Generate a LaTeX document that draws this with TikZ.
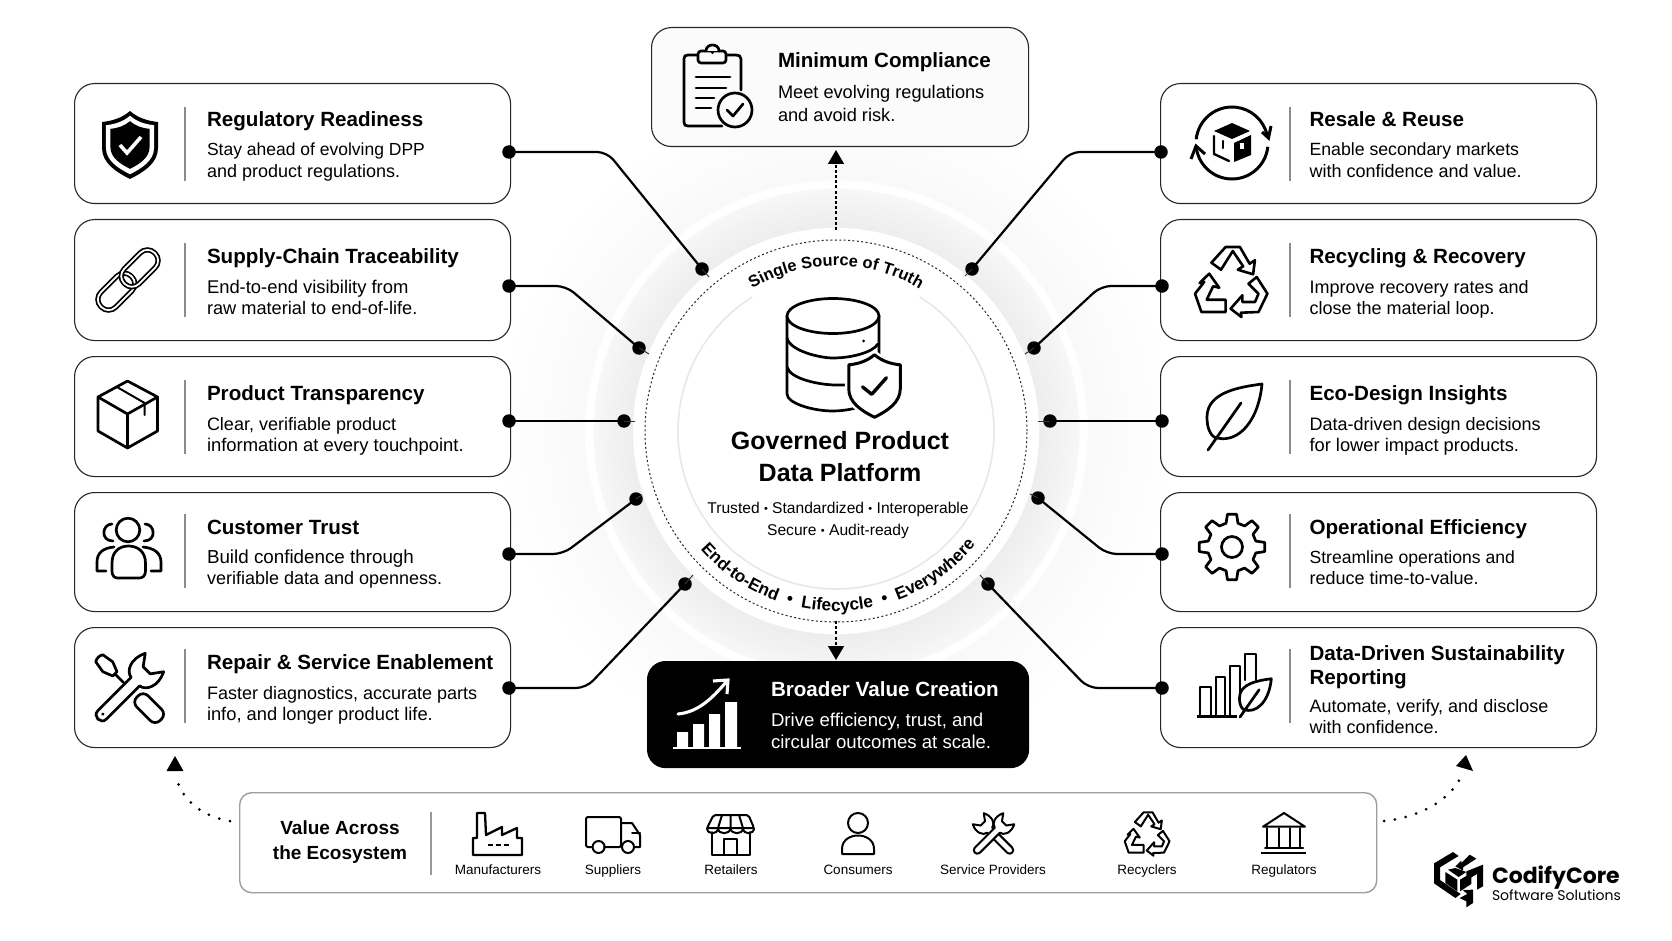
\documentclass[tikz,border=0pt]{standalone}
\usepackage{fontspec}
\setmainfont{Liberation Sans}
\newfontfamily\logofont{Poppins}
\usetikzlibrary{arrows.meta,decorations.text}
\pgfdeclareradialshading{halo}{\pgfpointorigin}{%
 color(0bp)=(white); color(14.8bp)=(white); color(14.93bp)=(black!7); color(16.5bp)=(black!5); color(17.85bp)=(black!3); color(17.9bp)=(white); color(18.46bp)=(white); color(18.5bp)=(black!2.5); color(22bp)=(black!1); color(25bp)=(white); color(50bp)=(white)}
\newcommand{\ttl}[1]{\fontsize{20.6pt}{24pt}\selectfont\bfseries #1}
\newcommand{\sbt}[2][18]{\fontsize{#1pt}{21pt}\selectfont #2}
\newcommand{\smb}{\raisebox{1pt}{\fontsize{11pt}{12pt}\selectfont •}}
\tikzset{
 card/.style={draw=black!85,line width=1.1pt,fill=white,rounded corners=20pt,anchor=north west,minimum width=436pt,minimum height=120pt,inner sep=0pt},
 sepr/.style={draw=black!45,line width=1.1pt},
 txt/.style={anchor=base west,inner sep=0pt,outer sep=0pt},
 ctr/.style={anchor=base,inner sep=0pt,outer sep=0pt},
 dotn/.style={circle,fill=black,inner sep=0pt,minimum size=13.5pt},
 conn/.style={draw=black,line width=2.2pt,rounded corners=10pt},
 tick/.style={draw=black!80,line width=1pt},
 ico/.style={draw=black,line width=2.7pt,line join=round,line cap=round},
 icos/.style={draw=black,line width=2pt,line join=round,line cap=round},
 lab/.style={ctr,font=\fontsize{13.5pt}{16pt}\selectfont},
 tipd/.style={-{Triangle[length=14pt,width=16pt]},draw=black,line width=1.7pt,dash pattern=on 3pt off 2.2pt},
 arcd/.style={draw=black,line width=3pt,line cap=round,dash pattern=on 0pt off 11pt},
}
\newcommand{\ShieldP}{(0,-34) .. controls (-8,-27) and (-18,-24) .. (-28,-23) -- (-28,3) .. controls (-28,18) and (-14,27) .. (0,34) .. controls (14,27) and (28,18) .. (28,3) -- (28,-23) .. controls (18,-24) and (8,-27) .. (0,-34) -- cycle}
\newcommand{\LeafP}{(54,-66) .. controls (32,-63) and (-1,-58) .. (-1,-33) .. controls (-1,-22) and (2,-16) .. (6,-13) .. controls (27,-5) and (50,-25) .. (54,-66) -- cycle (0,0) -- (33,-47)}
\newcommand{\WrenchP}{(-38,-6) -- (9,-6) .. controls (10,-14) and (22,-20) .. (36,-13) -- (25,-5) -- (25,5) -- (36,13) .. controls (22,20) and (10,14) .. (9,6) -- (-38,6) .. controls (-46,6) and (-46,-6) .. (-38,-6) -- cycle}
\newcommand{\RecycleIcon}[1]{%
 \draw[ico,line width=#1] (-19.6,-19.3) -- (-5.4,-35) -- (8.9,-35) -- (18.6,-18.3) -- (23.9,-21.7) -- (22.1,-7.7) -- (6.8,-12.3) -- (12.1,-15.7) -- (1.8,-31) -- (-10,-12.3) -- cycle;
 \draw[ico,line width=#1] (-21.8,-8.3) -- (-11.8,5.7) -- (-17.9,4.3) -- (-24.3,17.7) -- (-5.4,17.7) -- (-5.4,30) -- (-29.6,30) -- (-36,11.7) -- (-26.8,0) -- (-31.4,1) -- cycle;
 \draw[ico,line width=#1] (25.7,-5) -- (36.4,11.7) -- (27.5,30) -- (10,30.7) -- (10.4,35) -- (-.4,26.7) -- (11.4,13.3) -- (11.4,20) -- (24,20) -- (27.5,11.7) -- (17.5,1.7) -- cycle;}
\newcommand{\ToolsIcon}{%
 \begin{scope}[x=1pt,y=1pt,rotate=-45]
  \draw[ico,fill=white] (-42,-5) .. controls (-44,-2) and (-44,2) .. (-42,5) -- (-30,7) -- (-20,3) -- (-20,-3) -- (-30,-7) -- cycle;
  \draw[ico] (-20,0) -- (-8,0);
  \draw[ico,fill=white,rounded corners=7pt] (12,-8) rectangle (45,8);
 \end{scope}
 \begin{scope}[x=1pt,y=1pt,rotate=45]
  \draw[ico,fill=white] \WrenchP;
  \fill (-37,0) circle (1.7pt);
 \end{scope}}
\begin{document}
\begin{tikzpicture}[x=1pt,y=-1pt]
\useasboundingbox (0,0) rectangle (1672,941);
\fill[white] (0,0) rectangle (1672,941);
% halo
\shade[shading=halo] (836,431) circle (340pt);
\fill[white] (836,431) circle (203pt);
\begin{scope}[shift={(836,431)},x=1pt,y=1pt]
 \draw[black!9,line width=1.6pt] (122:158pt) arc[start angle=122,end angle=418,radius=158pt];
 \draw[black!85,line width=1pt,dash pattern=on 2pt off 2.4pt] (0,0) circle (191pt);
 \path[decorate,decoration={text along path,text align=center,text={|\fontsize{16.4pt}{18pt}\selectfont\bfseries|Single Source of Truth}}] (150:165pt) arc[start angle=150,end angle=30,radius=165pt];
 \path[decorate,decoration={text along path,text align=center,text={|\fontsize{17.2pt}{19pt}\selectfont\bfseries|End-to-End{ }{ }•{ }{ }Lifecycle{ }{ }•{ }{ }Everywhere}}] (216:180pt) arc[start angle=216,end angle=326,radius=180pt];
\end{scope}

% left cards
\node[card] (cL1) at (74,83) {};
\node[card,minimum height=121pt] (cL2) at (74,219) {};
\node[card] (cL3) at (74,356) {};
\node[card,minimum height=119pt] (cL4) at (74,492) {};
\node[card] (cL5) at (74,627) {};
\node[card] (cR1) at (1160,83) {};
\node[card,minimum height=121pt] (cR2) at (1160,219) {};
\node[card] (cR3) at (1160,356) {};
\node[card,minimum height=119pt] (cR4) at (1160,492) {};
\node[card] (cR5) at (1160,627) {};
\foreach \yy in {107,243,380,514,649}{
 \draw[sepr] (185,\yy) -- (185,\yy+74);
 \draw[sepr] (1290,\yy) -- (1290,\yy+74);
}
% texts left
\node[txt] (t1) at (207,127) {\ttl{Regulatory Readiness}};
\node[txt] (s1a) at (207,156) {\sbt[17.5]{Stay ahead of evolving DPP}};
\node[txt] (s1b) at (207,178) {\sbt{and product regulations.}};
\node[txt] (t2) at (207,264) {\ttl{Supply-Chain Traceability}};
\node[txt] (s2a) at (207,293) {\sbt[18.4]{End-to-end visibility from}};
\node[txt] (s2b) at (207,314) {\sbt[18.2]{raw material to end-of-life.}};
\node[txt] (t3) at (207,400) {\ttl{Product Transparency}};
\node[txt] (s3a) at (207,430) {\sbt{Clear, verifiable product}};
\node[txt] (s3b) at (207,451) {\sbt[18.4]{information at every touchpoint.}};
\node[txt] (t4) at (207,534) {\ttl{Customer Trust}};
\node[txt] (s4a) at (207,563) {\sbt[18.8]{Build confidence through}};
\node[txt] (s4b) at (207,584) {\sbt{verifiable data and openness.}};
\node[txt] (t5) at (207,669) {\ttl{Repair \& Service Enablement}};
\node[txt] (s5a) at (207,699) {\sbt{Faster diagnostics, accurate parts}};
\node[txt] (s5b) at (207,720) {\sbt[18.3]{info, and longer product life.}};
% texts right
\node[txt] (t6) at (1309.5,127) {\ttl{Resale \& Reuse}};
\node[txt] (s6a) at (1309.5,156) {\sbt[17.7]{Enable secondary markets}};
\node[txt] (s6b) at (1309.5,178) {\sbt{with confidence and value.}};
\node[txt] (t7) at (1309.5,264) {\ttl{Recycling \& Recovery}};
\node[txt] (s7a) at (1309.5,293) {\sbt{Improve recovery rates and}};
\node[txt] (s7b) at (1309.5,314) {\sbt{close the material loop.}};
\node[txt] (t8) at (1309.5,400) {\ttl{Eco-Design Insights}};
\node[txt] (s8a) at (1309.5,430) {\sbt{Data-driven design decisions}};
\node[txt] (s8b) at (1309.5,451) {\sbt[18.3]{for lower impact products.}};
\node[txt] (t9) at (1309.5,534) {\ttl{Operational Efficiency}};
\node[txt] (s9a) at (1309.5,563) {\sbt[17.6]{Streamline operations and}};
\node[txt] (s9b) at (1309.5,584) {\sbt{reduce time-to-value.}};
\node[txt] (t10) at (1309.5,660) {\ttl{Data-Driven Sustainability}};
\node[txt] (t10b) at (1309.5,684) {\ttl{Reporting}};
\node[txt] (s10a) at (1309.5,712) {\sbt{Automate, verify, and disclose}};
\node[txt] (s10b) at (1309.5,733) {\sbt{with confidence.}};

% top card
\node[card,fill=black!1.5,minimum width=377pt,minimum height=119pt] (cTop) at (651,27) {};
\node[txt] (tt) at (778,68) {\ttl{Minimum Compliance}};
\node[txt] (tta) at (778,98.5) {\fontsize{18.2pt}{20pt}\selectfont Meet evolving regulations};
\node[txt] (ttb) at (778,122) {\fontsize{18.2pt}{20pt}\selectfont and avoid risk.};
% black card
\node[card,draw=black,fill=black,rounded corners=18pt,minimum width=381pt,minimum height=106pt] (cBot) at (647,661) {};
\node[txt,text=white] (bt) at (771,696.5) {\ttl{Broader Value Creation}};
\node[txt,text=white] (bta) at (771,726.5) {\fontsize{18.6pt}{20pt}\selectfont Drive efficiency, trust, and};
\node[txt,text=white] (btb) at (771,748) {\fontsize{18.6pt}{20pt}\selectfont circular outcomes at scale.};
% centre text
\node[ctr] (c1) at (840,449) {\fontsize{25pt}{28pt}\selectfont\bfseries Governed Product};
\node[ctr] (c2) at (840,481) {\fontsize{25pt}{28pt}\selectfont\bfseries Data Platform};
\node[ctr] (c3) at (838,513) {\fontsize{15.6pt}{18pt}\selectfont Trusted \smb\ Standardized \smb\ Interoperable};
\node[ctr] (c4) at (838,535) {\fontsize{15.6pt}{18pt}\selectfont Secure \smb\ Audit-ready};

% connectors
\node[dotn] (a1) at (509,152) {}; \node[dotn] (b1) at (702,269) {}; \coordinate (m1) at (607,152); \coordinate (e1) at (709,277);
\node[dotn] (a2) at (509,286) {}; \node[dotn] (b2) at (639,348) {}; \coordinate (m2) at (566,286); \coordinate (e2) at (649,354);
\node[dotn] (a3) at (509,421) {}; \node[dotn] (b3) at (624,421) {}; \coordinate (e3) at (635,421);
\node[dotn] (a4) at (509,554) {}; \node[dotn] (b4) at (636,499) {}; \coordinate (m4) at (563,554); \coordinate (e4) at (642,495);
\node[dotn] (a5) at (509,688) {}; \node[dotn] (b5) at (685,584) {}; \coordinate (m5) at (586,688); \coordinate (e5) at (693,575);
\node[dotn] (a6) at (1161,152) {}; \node[dotn] (b6) at (972,269) {}; \coordinate (m6) at (1070,152); \coordinate (e6) at (965,276);
\node[dotn] (a7) at (1162,286) {}; \node[dotn] (b7) at (1034,348) {}; \coordinate (m7) at (1101,286); \coordinate (e7) at (1025,354);
\node[dotn] (a8) at (1162,421) {}; \node[dotn] (b8) at (1050,421) {}; \coordinate (e8) at (1038,421);
\node[dotn] (a9) at (1162,554) {}; \node[dotn] (b9) at (1038,498) {}; \coordinate (m9) at (1107,554); \coordinate (e9) at (1030,494);
\node[dotn] (a10) at (1162,688) {}; \node[dotn] (b10) at (988,584) {}; \coordinate (m10) at (1088,688); \coordinate (e10) at (980,575);
\draw[conn] (a1.center) -- (m1) -- (b1.center);
\draw[conn] (a2.center) -- (m2) -- (b2.center);
\draw[conn] (a3.center) -- (b3.center);
\draw[conn] (a4.center) -- (m4) -- (b4.center);
\draw[conn] (a5.center) -- (m5) -- (b5.center);
\draw[conn] (a6.center) -- (m6) -- (b6.center);
\draw[conn] (a7.center) -- (m7) -- (b7.center);
\draw[conn] (a8.center) -- (b8.center);
\draw[conn] (a9.center) -- (m9) -- (b9.center);
\draw[conn] (a10.center) -- (m10) -- (b10.center);
\foreach \i in {1,...,10}{\draw[tick] (b\i.center) -- (e\i);}
% arrows
\coordinate (ringT) at (836,230);
\coordinate (tipT) at (836,150);
\coordinate (ringB) at (836,621);
\coordinate (tipB) at (836,660);
\draw[tipd] (ringT) -- (tipT);
\draw[tipd] (ringB) -- (tipB);
% bottom panel
\node[card,draw=black!38,line width=1.4pt,rounded corners=12pt,minimum width=1137pt,minimum height=100pt] (panel) at (239,792) {};
\draw[sepr,line width=1.4pt,draw=black!40] (431,812) -- (431,875);
\node[ctr] (v1) at (340,834) {\fontsize{19pt}{22pt}\selectfont\bfseries Value Across};
\node[ctr] (v2) at (340,859) {\fontsize{19pt}{22pt}\selectfont\bfseries the Ecosystem};
\node[lab] (l1) at (498,874) {Manufacturers};
\node[lab] (l2) at (613,874) {Suppliers};
\node[lab] (l3) at (731,874) {Retailers};
\node[lab] (l4) at (858,874) {Consumers};
\node[lab] (l5) at (993,874) {Service Providers};
\node[lab] (l6) at (1147,874) {Recyclers};
\node[lab] (l7) at (1284,874) {Regulators};
% curved dotted
\coordinate (qa) at (230,821); \coordinate (qb) at (177,780); \coordinate (qt) at (175,756);
\draw[arcd] (qa) .. controls (205,817) and (184,803) .. (qb);
\fill (qt) -- (183.5,771) -- (166.5,771) -- cycle;
\coordinate (ra) at (1384,821); \coordinate (rb) at (1461,777); \coordinate (rt) at (1466,755);
\draw[arcd] (ra) .. controls (1415,818) and (1448,803) .. (rb);
\fill (rt) -- (1473,771) -- (1456,766) -- cycle;

% ---- icons ----
% shield
\begin{scope}[shift={(130,145)}]
 \fill \ShieldP;
 \fill[white,scale=.86] \ShieldP;
 \fill[black,scale=.70] \ShieldP;
 \draw[white,line width=3.6pt] (-10,0) -- (-3,8) -- (11,-8);
\end{scope}
% link
\begin{scope}[shift={(128,280)},rotate=45]
 \draw[draw=black,line width=1.7pt,double=white,double distance=1.8pt,rounded corners=10pt] (-38,-10.5) rectangle (5,10.5);
 \draw[draw=black,line width=1.7pt,double=white,double distance=1.8pt,rounded corners=10pt] (-5,-10.5) rectangle (38,10.5);
\end{scope}
% box
\draw[ico] (127.5,381) -- (157.5,397) -- (157.5,431) -- (127.5,448) -- (98,431) -- (98,397) -- cycle;
\draw[ico] (98,397) -- (127.5,414) -- (157.5,397) (127.5,414) -- (127.5,448);
\draw[ico,line width=2pt] (117,387) -- (144.6,403) -- (144.6,415);
% people
\draw[ico] (128,530) circle (11.8pt);
\draw[ico] (112,570) -- (112,563) .. controls (112,552) and (119,546) .. (128.5,546) .. controls (138,546) and (145.5,552) .. (145.5,563) -- (145.5,570) .. controls (145.5,577) and (142,578) .. (139,578) -- (118,578) .. controls (115,578) and (112,577) .. (112,570) -- cycle;
\draw[ico] (112,524) .. controls (102,524) and (100,541) .. (113,541);
\draw[ico] (145,524) .. controls (155,524) and (157,541) .. (144,541);
\draw[ico] (114,547) .. controls (103,548) and (97,553) .. (97,562) -- (97,571) -- (106,571);
\draw[ico] (143,547) .. controls (154,548) and (161,553) .. (161,562) -- (161,571) -- (151,571);
% tools
\begin{scope}[shift={(129,688)}]\ToolsIcon\end{scope}
% clipboard
\draw[ico] (741,90) -- (741,59) .. controls (741,56) and (739,55) .. (736,55) -- (688,55) .. controls (685,55) and (684,56) .. (684,59) -- (684,122) .. controls (684,125) and (685,126) .. (688,126) -- (722,126);
\draw[ico,fill=black!1.5,rounded corners=3pt] (698,51) rectangle (726,63);
\draw[ico,fill=black!1.5] (706,51) .. controls (706,43) and (719,43) .. (719,51);
\fill (712.5,52.5) circle (1.6pt);
\draw[ico] (696,77) -- (730,77) (696,88) -- (726,88) (696,98) -- (714,98) (696,108) -- (711,108);
\draw[ico,fill=black!1.5] (735,110) circle (17pt);
\draw[ico] (727,110) -- (733,116) -- (743,104);
% chart in black card
\fill[white] (677,732) rectangle (688,747) (693,724) rectangle (704,747) (709,714) rectangle (720,747) (725,702) rectangle (737,747);
\fill[white] (673,746.5) rectangle (741,749);
\draw[white,line width=3.1pt,line cap=round,line join=miter] (678,714) .. controls (700,712) and (715,695) .. (727,681);
\draw[white,line width=3.1pt,line join=miter] (713,681) -- (728,680) -- (727,694);
% resale icon
\begin{scope}[shift={(1232,143)},x=1pt,y=1pt]
 \draw[ico,line cap=butt,line width=3pt] (174:36pt) arc[start angle=174,end angle=12,radius=36pt];
 \draw[ico,line cap=butt,line width=3pt] (-6:36pt) arc[start angle=-6,end angle=-175,radius=36pt];
 \draw[black,line width=3pt,line join=miter] (30,11) -- (36.5,5) -- (39,17);
 \draw[black,line width=3pt,line join=miter] (-41,-16) -- (-36,-3) -- (-27,-11);
 \fill (0,20) -- (18,12) -- (0,4) -- (-18,12) -- cycle;
 \fill (2,0) -- (19,8) -- (19,-12) -- (2,-19) -- cycle;
 \draw[ico,line width=2.4pt] (-18,7) -- (-18,-11) -- (-3,-18);
 \draw[ico,line width=2.4pt] (-9,2) -- (-9,-5);
 \fill[white] (8,0) rectangle (12,-6);
\end{scope}
% recycle
\begin{scope}[shift={(1231,282)}]\RecycleIcon{2.6pt}\end{scope}
% leaf
\begin{scope}[shift={(1208,450)}]\draw[ico] \LeafP;\end{scope}
% gear
\begin{scope}[shift={(1232,547)}]
 \draw[ico] (-8:33) \foreach \k in {0,45,...,315}{ -- (\k-8:33) -- (\k+8:33) -- (\k+14:24.5) -- (\k+31:24.5)} -- cycle;
 \draw[ico] (0,0) circle (10.5pt);
\end{scope}
% sustainability
\draw[icos,line width=2.4pt] (1200,716) -- (1200,687) -- (1211,687) -- (1211,716);
\draw[icos,line width=2.4pt] (1216,716) -- (1216,677) -- (1225,677) -- (1225,716);
\draw[icos,line width=2.4pt] (1230,716) -- (1230,666) -- (1240,666) -- (1240,700);
\draw[icos,line width=2.4pt] (1245,680) -- (1245,654) -- (1256,654) -- (1256,680);
\draw[black,line width=3pt] (1197,716.5) -- (1237,716.5);
\begin{scope}[shift={(1240,717)},scale=.58]
 \draw[ico,fill=white,line width=2.7pt] \LeafP;
\end{scope}
% database
\draw[ico,fill=white] (787,316) -- (787,394) .. controls (787,403) and (812,411) .. (833,411) .. controls (840,411) and (848,410) .. (856,408) -- (879,390) -- (879,316);
\draw[ico,fill=white] (833,316) ellipse (46pt and 17.5pt);
\draw[ico] (787,338) .. controls (790,351) and (820,358) .. (833,358) .. controls (850,358) and (872,353) .. (878,344);
\draw[ico] (787,367) .. controls (790,379) and (820,385) .. (836,385) -- (845,385);
\fill (863.6,341) circle (1.6pt);
\begin{scope}[shift={(874.5,386)},scale=.92]
 \fill[white] \ShieldP;
 \draw[white,line width=8pt] \ShieldP;
 \draw[ico,fill=white,line width=3pt] \ShieldP;
 \draw[ico,line width=3.4pt] (-13,1) -- (-3,9) -- (13,-9);
\end{scope}
% factory
\draw[icos,line width=2.3pt] (473,855) -- (473,838) -- (477,838) -- (477,813) -- (485,813) -- (486,835) -- (502,827) -- (502,835) -- (517,828) -- (517,838) -- (522,838) -- (522,855) -- cycle;
\draw[icos,line width=2.3pt,line cap=butt,dash pattern=on 5pt off 3pt] (487.5,845) -- (511,845);
% truck
\draw[icos,rounded corners=1.5pt] (592,847) -- (586,847) -- (586,817) -- (621,817) -- (621,847) -- (604,847);
\draw[icos] (621,823) -- (632,823) -- (640,835) -- (640,847) -- (634,847);
\draw[icos] (621,847) -- (622,847);
\draw[icos] (632,833) -- (640,833);
\draw[icos] (598.6,847) circle (6pt) (628,847) circle (6pt);
% store
\draw[icos] (711.5,832) -- (711.5,855) -- (750,855) -- (750,832);
\draw[icos] (724,855) -- (724,839) -- (737,839) -- (737,855);
\draw[icos,rounded corners=2pt] (713.5,815) -- (748.5,815) -- (754,828) -- (707,828) -- cycle;
\draw[icos] (707,828) .. controls (707,835) and (718,835) .. (718,828) .. controls (718,835) and (730,835) .. (730.5,828) .. controls (731,835) and (743,835) .. (743,828) .. controls (743,835) and (754,835) .. (754,828);
\draw[icos] (722,815) -- (718,828) (730.5,815) -- (730.5,828) (739,815) -- (743,828);
% person
\draw[icos] (858,823) circle (10pt);
\draw[icos] (842,854) -- (842,849) .. controls (842,840) and (850,835.5) .. (858,835.5) .. controls (866,835.5) and (874,840) .. (874,849) -- (874,854) -- cycle;
% service tools
\begin{scope}[shift={(993.5,834)},scale=.6]
 \begin{scope}[x=1pt,y=1pt,rotate=135]
  \draw[icos,line width=2pt,fill=white] \WrenchP;
 \end{scope}
 \begin{scope}[x=1pt,y=1pt,rotate=45]
  \draw[icos,line width=2pt,fill=white] \WrenchP;
 \end{scope}
\end{scope}
% recyclers
\begin{scope}[shift={(1147,834)},scale=.62]\RecycleIcon{2pt}\end{scope}
% regulators
\draw[icos] (1284,813) -- (1305,826.7) -- (1263,826.7) -- cycle;
\draw[icos] (1267,828) -- (1267,848) (1279,828) -- (1279,848) (1289.5,828) -- (1289.5,848) (1299.5,828) -- (1299.5,848);
\draw[icos] (1265,848) -- (1303,848);
\draw[black,line width=2.4pt] (1261,853) -- (1306,853);
% logo
\begin{scope}[shift={(1428,848)},scale=.3333]
 \fill (75,12) -- (18,46) -- (18,106) -- (82,150) -- (98,138) -- (36,96) -- (36,58) -- (75,34) -- (92,24) -- cycle;
 \fill (125,20) -- (145,32) -- (105,58) -- (105,68) -- (82,55) -- (100,38) -- (100,45) -- cycle;
 \fill (52,72) -- (88,95) -- (88,130) -- (52,105) -- cycle;
 \fill (60,65) -- (82,60) -- (115,72) -- (92,87) -- cycle;
 \fill (96,95) -- (115,84) -- (115,70) -- (165,50) -- (165,115) -- (147,125) -- (147,78) -- (130,88) -- (130,108) -- (96,130) -- cycle;
 \fill (135,125) -- (135,165) -- (115,178) -- (115,160) -- (95,150) -- (118,138) -- (104,126) -- cycle;
\end{scope}
\node[txt] (logoA) at (1492,883) {\logofont\fontsize{22pt}{24pt}\selectfont\bfseries CodifyCore};
\node[txt] (logoB) at (1492,900) {\logofont\fontsize{14pt}{16pt}\selectfont Software Solutions};
\end{tikzpicture}
\end{document}
